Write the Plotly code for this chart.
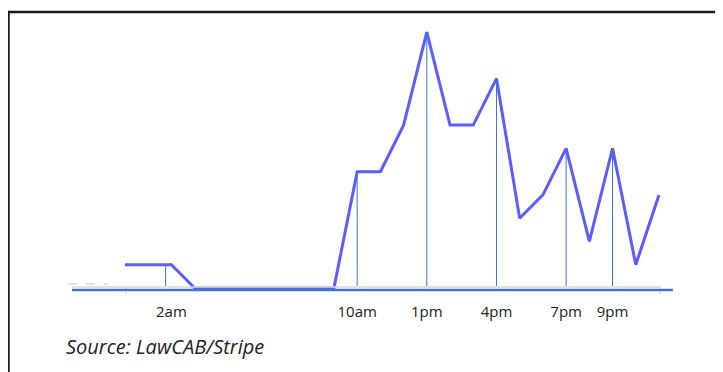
import plotly.graph_objects as go

# Data: hourly counts (hour of day 0..23)
hours = list(range(24))
counts = [1, 1, 1, 0, 0, 0, 0, 0, 0, 0, 5, 5, 7, 11, 7, 7, 9, 3, 4, 6, 2, 6, 1, 4]

tick_hours = [2, 10, 13, 16, 19, 21]
tick_labels = ["2am", "10am", "1pm", "4pm", "7pm", "9pm"]

source_text = "Source: LawCAB/Stripe"

W, H = 723, 372
OFF = 8  # page body margin
FW, FH = W - OFF, H - OFF
px_per_hour = 23.217
x0_px = 125 - OFF
px_per_unit = 23.27
base_px = 288 - OFF

xr = [-x0_px / px_per_hour, (FW - x0_px) / px_per_hour]
yr = [-(FH - base_px) / px_per_unit, base_px / px_per_unit]


def hx(px):
    return (px - OFF - x0_px) / px_per_hour


def vy(py):
    return (base_px - (py - OFF)) / px_per_unit


fig = go.Figure()

shapes = []
# light gray baseline
shapes.append(dict(type="line", xref="x", yref="y", x0=hx(72), x1=hx(660), y0=vy(287), y1=vy(287),
                   line=dict(color="#d9d9d9", width=1.5)))
shapes.append(dict(type="line", xref="x", yref="y", x0=hx(660), x1=hx(660), y0=vy(286), y1=vy(294),
                   line=dict(color="#d9d9d9", width=1)))
shapes.append(dict(type="line", xref="x", yref="y", x0=hx(126), x1=hx(126), y0=vy(287), y1=vy(294),
                   line=dict(color="#d9d9d9", width=1)))
# dashed gray stub
shapes.append(dict(type="line", xref="x", yref="y", x0=hx(68), x1=hx(108), y0=vy(284), y1=vy(284),
                   line=dict(color="#c4c4c4", width=1, dash="dash")))
# drop lines
for h in tick_hours:
    xx = h - 0.25 if h == 2 else h
    shapes.append(dict(type="line", xref="x", yref="y", x0=xx, x1=xx, y0=counts[h], y1=vy(286),
                       line=dict(color="#4472c4", width=1)))
# blue axis line
shapes.append(dict(type="line", xref="x", yref="y", x0=hx(72), x1=hx(673), y0=vy(290), y1=vy(290),
                   line=dict(color="#4472c4", width=2.5)))
# border (left and top)
shapes.append(dict(type="line", xref="paper", yref="paper", x0=0.5 / FW, x1=0.5 / FW, y0=0, y1=1 - 4 / FH,
                   line=dict(color="#1a1a1a", width=2.5)))
shapes.append(dict(type="line", xref="paper", yref="paper", x0=0, x1=1, y0=1 - 4 / FH, y1=1 - 4 / FH,
                   line=dict(color="#1a1a1a", width=2.5)))

fig.add_trace(go.Scatter(x=hours, y=counts, mode="lines",
                         line=dict(color="#5c5cff", width=3), hoverinfo="skip"))

fig.update_layout(
    width=FW, height=FH,
    margin=dict(l=0, r=0, t=0, b=0),
    paper_bgcolor="white", plot_bgcolor="white",
    showlegend=False,
    shapes=shapes,
    xaxis=dict(range=xr, showgrid=False, zeroline=False, showline=False,
               tickmode="array", tickvals=tick_hours, ticktext=tick_labels,
               ticks="", anchor="free", position=1 - (290 - OFF) / FH, ticklabelstandoff=11,
               tickfont=dict(family="Open Sans", size=15, color="#222222")),
    yaxis=dict(range=yr, visible=False),
    annotations=[dict(text="<i>" + source_text + "</i>", xref="paper", yref="paper",
                      x=(64 - OFF) / FW, y=1 - (346 - OFF) / FH, xanchor="left", yanchor="middle",
                      showarrow=False, font=dict(family="Open Sans", size=20, color="#222222"))],
)

fig.write_html("out.html")
